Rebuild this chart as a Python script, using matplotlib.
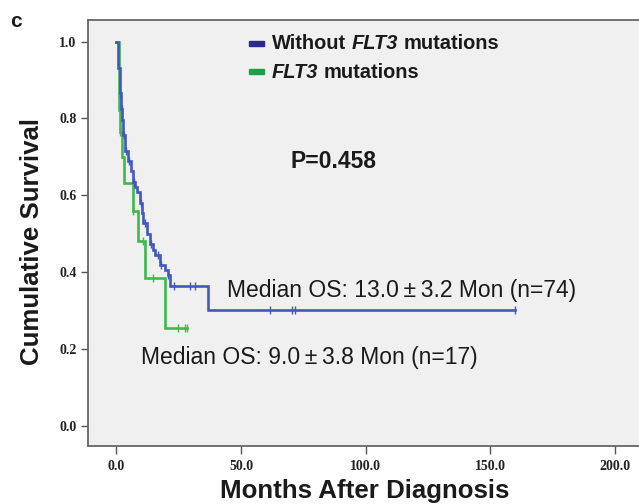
import matplotlib
matplotlib.use("Agg")
import matplotlib.pyplot as plt
from matplotlib.patches import Rectangle

# Kaplan-Meier steps (months, survival after the step)
blue_t = [0, 0.8, 1.4, 1.9, 2.3, 2.8, 3.6, 4.7, 5.8, 6.8, 7.5, 8.1, 9.4, 10.3,
          10.8, 12.1, 13.5, 14.5, 15.5, 17.5, 19.5, 20.5, 21.5, 36.8]
blue_s = [1.0, 0.932, 0.865, 0.824, 0.797, 0.757, 0.716, 0.689, 0.662, 0.635,
          0.622, 0.608, 0.581, 0.554, 0.527, 0.500, 0.473, 0.459, 0.446, 0.419,
          0.405, 0.392, 0.365, 0.301]
blue_end = 160.0
blue_cens = [1.6, 2.1, 3.0, 4.0, 5.2, 7.0, 9.8, 11.5, 14.0, 16.5, 18.0, 20.8,
             23.0, 29.5, 31.5, 61.6, 70.3, 71.7, 160.0]

green_t = [0, 0.9, 1.5, 2.2, 3.2, 6.6, 8.8, 11.6, 19.5]
green_s = [1.0, 0.823, 0.765, 0.70, 0.632, 0.558, 0.48, 0.384, 0.254]
green_end = 28.2
green_cens = [1.6, 6.8, 10.8, 14.6, 24.7, 27.7, 28.2]

labels = ["Without ", "FLT3", " mutations"]
p_text = "P=0.458"
median_blue = "Median OS: 13.0\u2009\u00b1\u20093.2 Mon (n=74)"
median_green = "Median OS: 9.0\u2009\u00b1\u20093.8 Mon (n=17)"

blue_line = "#4258c0"
green_line = "#3dba4a"
blue_key = "#2c2a8e"
green_key = "#1f9e4a"

sans = "Liberation Sans"
W, H = 639, 504


def step_xy(t, s, end):
    xs, ys = [], []
    for i in range(len(t)):
        if i > 0:
            xs.append(t[i])
            ys.append(s[i - 1])
        xs.append(t[i])
        ys.append(s[i])
    xs.append(end)
    ys.append(s[-1])
    return xs, ys


def level_at(t, s, x):
    v = s[0]
    for ti, si in zip(t, s):
        if ti <= x:
            v = si
    return v


fig = plt.figure(figsize=(W / 100, H / 100), dpi=100)
ax = fig.add_axes([87.6 / W, (H - 446) / H, 1 - 87.6 / W, 426 / H])
ax.set_facecolor("#f0f0f0")
ax.set_xlim(-11.6, 209.8)
ax.set_ylim(-0.052, 1.056)

for t, s, end, cens, col in [(green_t, green_s, green_end, green_cens, green_line),
                             (blue_t, blue_s, blue_end, blue_cens, blue_line)]:
    xs, ys = step_xy(t, s, end)
    ax.plot(xs, ys, color=col, lw=1.9, solid_joinstyle="miter")
    cy = [level_at(t, s, c) for c in cens]
    ax.plot(cens, cy, ls="none", marker="|", ms=6, mew=1.0, color=col)

ax.set_xticks([0, 50, 100, 150, 200])
ax.set_xticklabels(["0.0", "50.0", "100.0", "150.0", "200.0"])
ax.set_yticks([0, 0.2, 0.4, 0.6, 0.8, 1.0])
ax.set_yticklabels(["0.0", "0.2", "0.4", "0.6", "0.8", "1.0"])
ax.tick_params(axis="x", length=6, width=1, color="#555555", pad=4)
ax.tick_params(axis="y", length=5, width=1, color="#555555", pad=3)
for lab in ax.get_xticklabels() + ax.get_yticklabels():
    lab.set_fontfamily("Liberation Serif")
    lab.set_fontweight("bold")
    lab.set_fontsize(10)
    lab.set_color("#222222")

for side in ["left", "top", "bottom"]:
    ax.spines[side].set_color("#666666")
    ax.spines[side].set_linewidth(1.3)
ax.spines["right"].set_visible(False)

ax.text(69.7, 0.672, p_text, fontsize=16.5, fontweight="bold", family=sans, color="#1a1a1a")
ax.text(44.4, 0.336, median_blue, fontsize=16.5, family=sans, color="#1a1a1a")
ax.text(10.0, 0.161, median_green, fontsize=16.5, family=sans, color="#1a1a1a")

fig.text(32 / W, 1 - 241 / H, "Cumulative Survival", rotation=90, ha="center", va="center",
         fontsize=18.6, fontweight="bold", family=sans, color="#1a1a1a")
fig.text(364.5 / W, 1 - 498 / H, "Months After Diagnosis", ha="center", va="baseline",
         fontsize=18.6, fontweight="bold", family=sans, color="#1a1a1a")
fig.text(10 / W, 1 - 27 / H, "c", fontsize=15, fontweight="bold", family=sans, color="#1a1a1a")

# legend drawn by hand: coloured dash + text with italic gene name
renderer = fig.canvas.get_renderer()


def width_px(s, **kw):
    t = fig.text(0, 0, s, **kw)
    w = t.get_window_extent(renderer).width
    t.remove()
    return w


rows = [(labels, blue_key, 43.3, 49.3), (labels[1:], green_key, 71.7, 78.3)]
for parts, col, yc, base in rows:
    fig.patches.append(Rectangle((248.6 / W, 1 - (yc + 2.6) / H), 15.4 / W, 5.2 / H,
                                 transform=fig.transFigure, color=col))
    x = 272.0
    for p in parts:
        style = "italic" if p == "FLT3" else "normal"
        kw = dict(fontsize=14.4, fontweight="bold", family=sans, style=style)
        core = p.strip()
        if p.startswith(" "):
            x += width_px("a a", **kw) - width_px("aa", **kw)
        fig.text(x / W, 1 - base / H, core, va="baseline", color="#1a1a1a", **kw)
        x += width_px(core, **kw)
        if p.endswith(" "):
            x += width_px("a a", **kw) - width_px("aa", **kw)

fig.savefig("out.png", dpi=100, facecolor="white")
